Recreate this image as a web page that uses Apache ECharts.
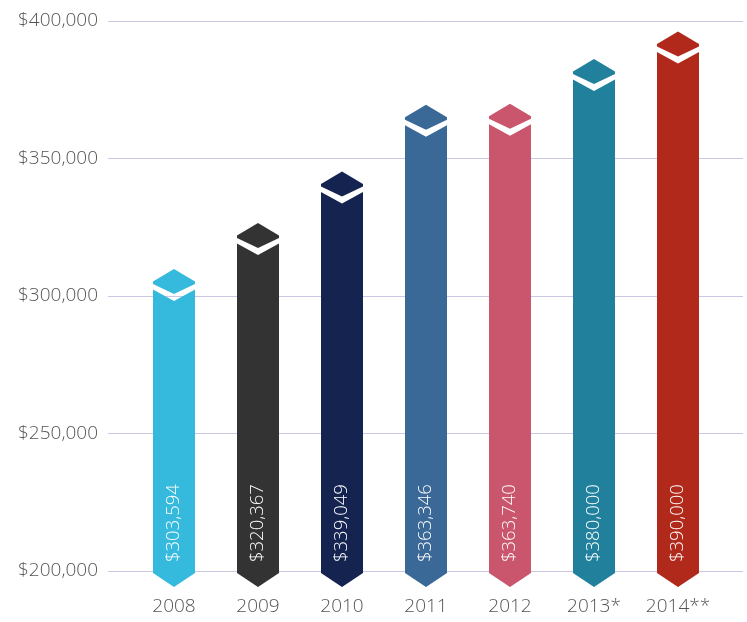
<!DOCTYPE html>
<html>
<head>
<meta charset="utf-8">
<script src="https://cdn.jsdelivr.net/npm/echarts@6/dist/echarts.min.js"></script>
<style>
html,body{margin:0;padding:0;background:#fff;}
#chart{width:747px;height:622px;}
</style>
</head>
<body>
<div id="chart"></div>
<script>
var categories = ['2008', '2009', '2010', '2011', '2012', '2013*', '2014**'];
var values = [303594, 320367, 339049, 363346, 363740, 380000, 390000];
var barColors = ['#35BADD', '#333333', '#152351', '#3A6897', '#C9566D', '#21819D', '#B0291B'];
var yMin = 200000, yMax = 400000, yStep = 50000;

function money(v) {
  return '$' + String(v).replace(/\B(?=(\d{3})+(?!\d))/g, ',');
}

var chart = echarts.init(document.getElementById('chart'), null, {renderer: 'canvas'});

function renderItem(params, api) {
  var idx = api.value(0);
  var val = api.value(1);
  var top = api.coord([idx, val]);
  var base = api.coord([idx, yMin]);
  var band = api.size([1, 0])[0];
  var w = band * 0.25;
  var x = top[0], yv = top[1], y0 = base[1];
  var color = barColors[idx];
  var bar = [
    [x - w, yv + 3.5], [x, yv + 15], [x + w, yv + 3.5],
    [x + w, y0 + 2], [x, y0 + 16], [x - w, y0 + 2]
  ];
  var cap = [
    [x, yv - 17], [x + w, yv - 4.5], [x + w, yv - 2],
    [x, yv + 8], [x - w, yv - 2], [x - w, yv - 4.5]
  ];
  return {
    type: 'group',
    children: [
      {type: 'polygon', shape: {points: bar}, style: {fill: color}},
      {type: 'polygon', shape: {points: cap}, style: {fill: color}},
      {
        type: 'text', x: x, y: y0 - 9, rotation: Math.PI / 2,
        style: {
          text: money(val), fill: '#ffffff',
          font: '300 18.5px "Open Sans"', align: 'left', verticalAlign: 'middle'
        }
      }
    ]
  };
}

var option = {
  animation: false,
  grid: [
    {left: 108, right: 4, top: 21, bottom: 51},
    {left: 132, right: 27, top: 21, bottom: 51}
  ],
  xAxis: [
    {gridIndex: 0, type: 'value', show: false, min: 0, max: 1},
    {
      gridIndex: 1, type: 'category', data: categories,
      axisLine: {show: false}, axisTick: {show: false},
      axisLabel: {color: '#555555', fontFamily: 'Open Sans', fontWeight: 300, fontSize: 19, margin: 26}
    }
  ],
  yAxis: [
    {
      gridIndex: 0, type: 'value', min: yMin, max: yMax, interval: yStep,
      axisLine: {show: false}, axisTick: {show: false},
      splitLine: {lineStyle: {color: '#C9C7E4', width: 1}},
      axisLabel: {
        color: '#555555', fontFamily: 'Open Sans', fontWeight: 300, fontSize: 19, margin: 10,
        formatter: function (v) { return money(v); }
      }
    },
    {gridIndex: 1, type: 'value', min: yMin, max: yMax, interval: yStep, show: false, splitLine: {show: false}}
  ],
  series: [{
    type: 'custom',
    xAxisIndex: 1, yAxisIndex: 1,
    clip: false,
    renderItem: renderItem,
    data: values.map(function (v, i) { return [i, v]; })
  }]
};
chart.setOption(option);
</script>
</body>
</html>
